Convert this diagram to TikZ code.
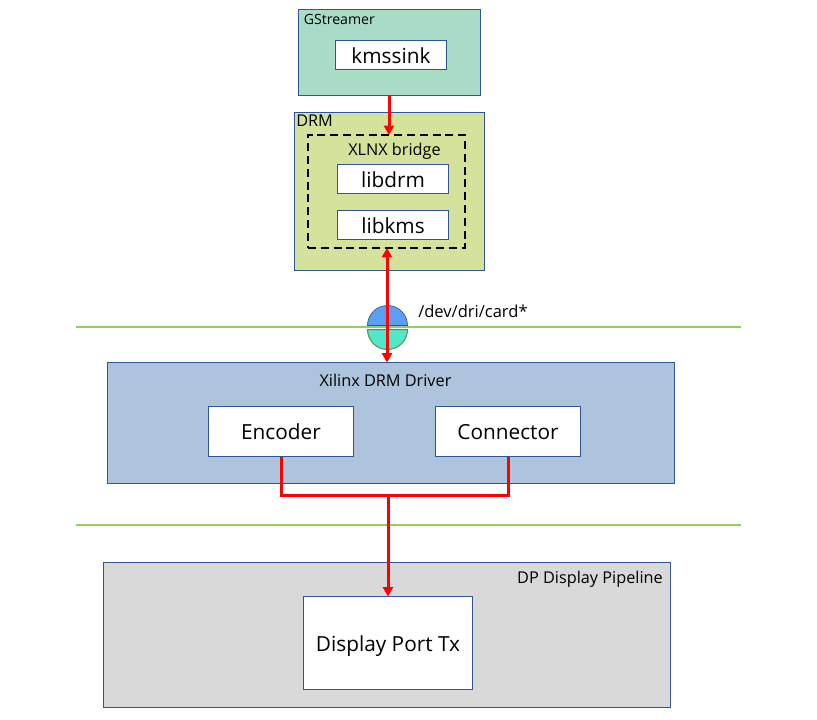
\documentclass[tikz,border=0pt]{standalone}
\usepackage{fontspec}
\setmainfont{Open Sans}
\usetikzlibrary{arrows.meta,calc}
\definecolor{edgeblue}{HTML}{2F5597}
\definecolor{gstfill}{HTML}{A9DCC6}
\definecolor{drmfill}{HTML}{D4E29B}
\definecolor{xilfill}{HTML}{ADC4DC}
\definecolor{dpfill}{HTML}{D9D9D9}
\definecolor{sepgreen}{HTML}{92D050}
\definecolor{capblue}{HTML}{5B9FF5}
\definecolor{capteal}{HTML}{4FE8C8}
\definecolor{capedge}{HTML}{5E8C4A}
\tikzset{
 x=0.75pt,y=-0.75pt,
 region/.style={draw=edgeblue,line width=0.75pt,inner sep=0pt,outer sep=0pt},
 whitebox/.style={region,fill=white,text=black,font=\fontsize{15.6}{18}\selectfont,text height=15.5pt,text depth=3pt},
 sepline/.style={draw=sepgreen,line width=1.5pt},
 flow/.style={draw=red,line width=2.25pt},
 flowtip/.style={flow,-{Triangle[length=7pt,width=7.5pt]}},
 flowtips/.style={flow,{Triangle[length=7pt,width=7.5pt]}-{Triangle[length=7pt,width=7.5pt]}},
 lbl/.style={inner sep=0pt,text=black,font=\fontsize{12.2}{14}\selectfont},
}
\newcommand{\boxat}[6][]{\node[#1,minimum width=#4*0.75pt,minimum height=#5*0.75pt,anchor=north west] (#2) at #3 {#6};}
\begin{document}
\begin{tikzpicture}
\useasboundingbox (0,0) rectangle (817,720);
% separators
\coordinate (s1l) at (76,326.5); \coordinate (s1r) at (741,326.5);
\coordinate (s2l) at (76,525); \coordinate (s2r) at (741,525);
\draw[sepline] (s1l) -- (s1r);
\draw[sepline] (s2l) -- (s2r);
% regions
\boxat[region,fill=gstfill]{gst}{(298.5,9.5)}{182}{86}{}
\boxat[whitebox]{kms}{(335.5,40.5)}{111}{29}{kmssink}
\boxat[region,fill=drmfill]{drm}{(294.5,112.5)}{190}{158}{}
\node[draw=black,line width=1.5pt,dash pattern=on 6pt off 3.6pt,minimum width=157*0.75pt,minimum height=113*0.75pt,anchor=north west,inner sep=0pt,outer sep=0pt] (bridge) at (308,135) {};
\boxat[whitebox]{libdrm}{(337.5,164.5)}{111}{29}{libdrm}
\boxat[whitebox]{libkms}{(337.5,210.5)}{111}{29}{libkms}
\boxat[region,fill=xilfill]{xil}{(107.5,362.5)}{567}{121}{}
\boxat[whitebox]{enc}{(208.5,406.5)}{145}{50}{Encoder}
\boxat[whitebox]{con}{(435.5,406.5)}{145}{50}{Connector}
\boxat[region,fill=dpfill]{dp}{(103.5,562.5)}{567}{145}{}
\boxat[whitebox]{tx}{(303.5,596.5)}{169}{93}{Display Port Tx}
% labels
\node[lbl,anchor=west,font=\fontsize{10.6}{12}\selectfont] (lgst) at (303.5,19) {GStreamer};
\node[lbl,anchor=west] (ldrm) at (296,121) {DRM};
\node[lbl,anchor=center] (lbr) at (394.5,151) {XLNX bridge};
\node[lbl,anchor=center] (lxil) at (385.5,380) {Xilinx DRM Driver};
\node[lbl,anchor=east] (ldp) at (663,579) {DP Display Pipeline};
\node[lbl,anchor=west,font=\fontsize{12.4}{14}\selectfont] (ldev) at (418,311) {/dev/dri/card*};
% device-node half circles
\coordinate (ct) at (387.5,325.5); \coordinate (cb) at (387.5,329.5);
\draw[draw=edgeblue,line width=0.5pt,fill=capblue] (ct) ++(-20,0) arc[start angle=180,end angle=0,radius=15pt] -- cycle;
\draw[draw=capedge,line width=0.75pt,fill=capteal] (cb) ++(-20,0) arc[start angle=180,end angle=360,radius=15pt] -- cycle;
% connectors
\coordinate (a1) at (gst.south -| 389,0);
\coordinate (a1e) at (bridge.north -| 389,0);
\draw[flowtip] (a1) -- (a1e);
\coordinate (a2s) at (bridge.south -| 387,0);
\coordinate (a2e) at (xil.north -| 387,0);
\draw[flowtips] (a2s) -- (a2e);
\coordinate (j) at (388,495);
\draw[flow,line cap=butt] (enc.south -| 281,0) -- (281,495) -- (508.5,495) -- (con.south -| 508.5,0);
\draw[flowtip] (j) -- (tx.north -| 388,0);
\end{tikzpicture}
\end{document}
